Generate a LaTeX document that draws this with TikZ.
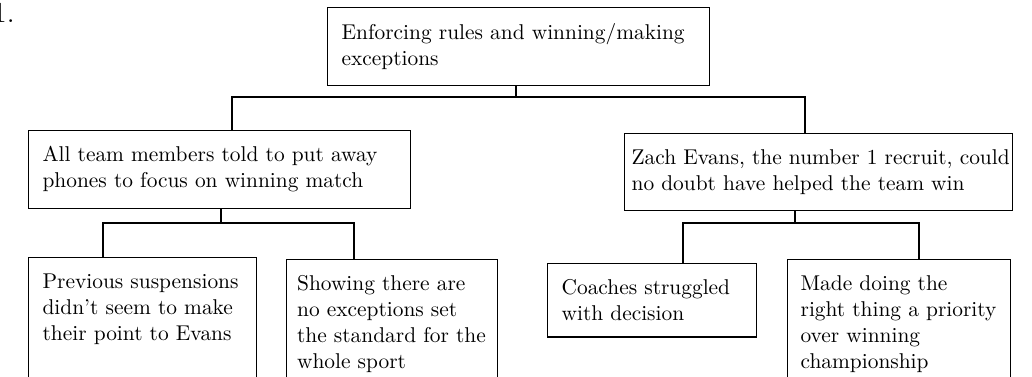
\documentclass[tikz,border=0pt]{standalone}
\usetikzlibrary{calc}

\begin{document}
\begin{tikzpicture}[x={(0.5pt,0pt)}, y={(0pt,-0.5pt)}]
%styles
\tikzstyle{box}=[rectangle, draw, line width=0.6pt, anchor=north west, align=left, inner xsep=7pt, inner ysep=8pt, font=\fontsize{10.7}{13}\selectfont]
\tikzstyle{link}=[line width=1.3pt]

\path[use as bounding box, clip] (0,0) rectangle (1032,376);

%number
\node[font=\Large, anchor=base east, inner sep=0pt] (num) at (15,22) {1.};

%boxes
\node[box, text width=177pt, minimum height=35pt] (top) at (327,7)
  {Enforcing rules and winning/making\\exceptions};
\node[box, text width=177pt, minimum height=34pt] (l1) at (28,130)
  {All team members told to put away\\phones to focus on winning match};
\node[box, inner xsep=3.5pt, text width=187pt, minimum height=34pt] (r1) at (624,133)
  {\mbox{Zach Evans, the number 1 recruit, could}\\no doubt have helped the team win};
\node[box, text width=100pt, text depth=80pt] (ll) at (28,257)
  {Previous suspensions\\didn't seem to make\\their point to Evans};
\node[box, inner xsep=5.25pt, text width=95pt, text depth=80pt] (lr) at (286,259)
  {Showing there are\\no exceptions set\\the standard for the\\whole sport};
\node[box, text width=90.5pt, minimum height=34.5pt] (rl) at (547,263)
  {Coaches struggled\\with decision};
\node[box, inner xsep=6.5pt, text width=98.5pt, text depth=80pt] (rr) at (787,259)
  {Made doing the\\right thing a priority\\over winning\\championship};

%junctions
\coordinate (j0) at (516,97);
\coordinate (a0) at (232,97);
\coordinate (b0) at (805,97);
\coordinate (j1) at (221,223);
\coordinate (a1) at (103,223);
\coordinate (b1) at (354,223);
\coordinate (j2) at (795,223);
\coordinate (a2) at (683,223);
\coordinate (b2) at (919,223);

%links
\draw[link] (top.south -| j0) -- (j0);
\draw[link] (l1.north -| a0) -- (a0) -- (b0) -- (r1.north -| b0);
\draw[link] (l1.south -| j1) -- (j1);
\draw[link] (ll.north -| a1) -- (a1) -- (b1) -- (lr.north -| b1);
\draw[link] (r1.south -| j2) -- (j2);
\draw[link] (rl.north -| a2) -- (a2) -- (b2) -- (rr.north -| b2);
\end{tikzpicture}
\end{document}
